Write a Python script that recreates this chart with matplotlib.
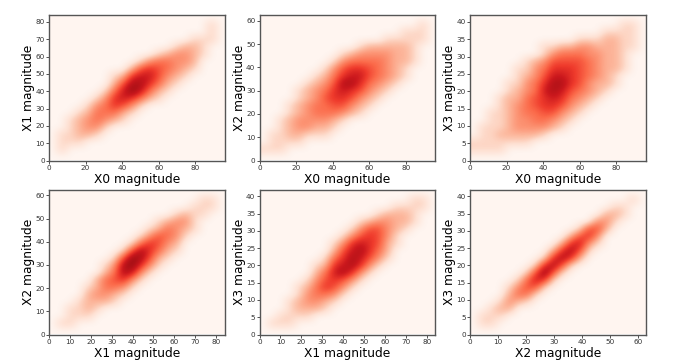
import numpy as np
import matplotlib
matplotlib.use("Agg")
import matplotlib.pyplot as plt
from matplotlib.colors import PowerNorm

# density levels (0 = empty, 9 = darkest), top row = highest y
x0_x1 = [
    [0,0,0,0,0,0,0,0,0,0,0,0,0,0,0,0,0,0,0,0],
    [0,0,0,0,0,0,0,0,0,0,0,0,0,0,0,0,0,0,1,0],
    [0,0,0,0,0,0,0,0,0,0,0,0,0,0,0,0,0,0,1,0],
    [0,0,0,0,0,0,0,0,0,0,0,0,0,0,0,0,1,1,1,0],
    [0,0,0,0,0,0,0,0,0,0,0,0,0,0,1,2,2,1,0,0],
    [0,0,0,0,0,0,0,0,0,0,0,0,1,2,3,3,2,1,0,0],
    [0,0,0,0,0,0,0,0,0,0,1,3,4,4,3,3,2,0,0,0],
    [0,0,0,0,0,0,0,0,0,2,5,6,5,4,3,2,1,0,0,0],
    [0,0,0,0,0,0,0,1,2,6,7,7,5,3,2,1,0,0,0,0],
    [0,0,0,0,0,0,0,2,5,8,8,6,4,2,1,0,0,0,0,0],
    [0,0,0,0,0,0,1,4,7,9,7,4,2,1,0,0,0,0,0,0],
    [0,0,0,0,0,1,3,6,7,6,4,2,1,0,0,0,0,0,0,0],
    [0,0,0,0,1,3,4,6,5,3,1,0,0,0,0,0,0,0,0,0],
    [0,0,0,1,2,4,4,4,2,1,0,0,0,0,0,0,0,0,0,0],
    [0,0,1,2,3,4,3,2,1,0,0,0,0,0,0,0,0,0,0,0],
    [0,0,1,2,3,3,1,0,0,0,0,0,0,0,0,0,0,0,0,0],
    [0,1,1,2,2,1,0,0,0,0,0,0,0,0,0,0,0,0,0,0],
    [0,1,1,1,0,0,0,0,0,0,0,0,0,0,0,0,0,0,0,0],
    [0,1,0,0,0,0,0,0,0,0,0,0,0,0,0,0,0,0,0,0],
    [0,0,0,0,0,0,0,0,0,0,0,0,0,0,0,0,0,0,0,0],
]
x0_x2 = [
    [0,0,0,0,0,0,0,0,0,0,0,0,0,0,0,0,0,0,0,0],
    [0,0,0,0,0,0,0,0,0,0,0,0,0,0,0,0,0,0,1,0],
    [0,0,0,0,0,0,0,0,0,0,0,0,0,0,0,0,1,1,1,0],
    [0,0,0,0,0,0,0,0,0,0,0,0,0,0,1,1,1,1,1,0],
    [0,0,0,0,0,0,0,0,0,0,0,1,2,2,2,2,2,1,0,0],
    [0,0,0,0,0,0,0,0,0,1,2,3,3,3,3,2,2,1,0,0],
    [0,0,0,0,0,0,0,0,1,3,4,4,4,4,3,2,2,1,0,0],
    [0,0,0,0,0,0,0,1,3,5,6,6,5,4,3,2,1,0,0,0],
    [0,0,0,0,0,0,1,2,4,6,7,7,5,4,3,2,1,0,0,0],
    [0,0,0,0,0,1,2,3,5,8,8,6,4,3,2,1,0,0,0,0],
    [0,0,0,0,1,2,3,4,6,7,6,5,3,2,1,0,0,0,0,0],
    [0,0,0,0,1,2,3,5,6,6,5,3,2,1,0,0,0,0,0,0],
    [0,0,0,1,2,3,4,4,5,5,3,2,1,0,0,0,0,0,0,0],
    [0,0,0,1,2,3,4,4,4,3,2,1,0,0,0,0,0,0,0,0],
    [0,0,1,2,3,3,3,3,2,1,0,0,0,0,0,0,0,0,0,0],
    [0,0,1,2,3,3,2,2,1,0,0,0,0,0,0,0,0,0,0,0],
    [0,1,1,2,2,1,1,1,0,0,0,0,0,0,0,0,0,0,0,0],
    [0,1,1,1,1,0,0,0,0,0,0,0,0,0,0,0,0,0,0,0],
    [1,1,1,0,0,0,0,0,0,0,0,0,0,0,0,0,0,0,0,0],
    [0,0,0,0,0,0,0,0,0,0,0,0,0,0,0,0,0,0,0,0],
]
x0_x3 = [
    [0,0,0,0,0,0,0,0,0,0,0,0,0,0,0,0,0,0,0,0],
    [0,0,0,0,0,0,0,0,0,0,0,0,0,0,0,0,0,1,1,0],
    [0,0,0,0,0,0,0,0,0,0,0,0,0,0,0,1,1,1,1,0],
    [0,0,0,0,0,0,0,0,0,0,0,0,1,1,1,2,2,1,1,0],
    [0,0,0,0,0,0,0,0,1,1,2,2,3,3,2,2,2,1,1,0],
    [0,0,0,0,0,0,0,0,1,3,4,4,4,3,3,2,2,1,0,0],
    [0,0,0,0,0,0,1,2,3,5,5,5,5,4,3,2,2,1,0,0],
    [0,0,0,0,0,1,1,3,4,6,6,6,5,4,3,2,2,1,0,0],
    [0,0,0,0,0,1,2,3,5,7,7,6,5,4,3,2,1,0,0,0],
    [0,0,0,0,1,1,3,4,6,8,8,6,5,3,2,2,1,0,0,0],
    [0,0,0,0,1,2,3,4,7,8,7,5,4,3,2,1,0,0,0,0],
    [0,0,0,1,2,2,4,5,6,7,6,4,3,2,1,0,0,0,0,0],
    [0,0,0,1,2,3,4,5,6,6,5,3,2,1,0,0,0,0,0,0],
    [0,0,1,1,2,3,4,4,5,5,3,2,1,0,0,0,0,0,0,0],
    [0,0,1,1,2,3,3,4,4,3,2,1,0,0,0,0,0,0,0,0],
    [0,1,1,1,2,3,3,3,3,2,1,0,0,0,0,0,0,0,0,0],
    [0,1,1,2,2,2,2,2,1,0,0,0,0,0,0,0,0,0,0,0],
    [1,1,1,1,1,1,1,0,0,0,0,0,0,0,0,0,0,0,0,0],
    [1,1,1,1,0,0,0,0,0,0,0,0,0,0,0,0,0,0,0,0],
    [0,0,0,0,0,0,0,0,0,0,0,0,0,0,0,0,0,0,0,0],
]
x1_x2 = [
    [0,0,0,0,0,0,0,0,0,0,0,0,0,0,0,0,0,0,0,0],
    [0,0,0,0,0,0,0,0,0,0,0,0,0,0,0,0,0,1,1,0],
    [0,0,0,0,0,0,0,0,0,0,0,0,0,0,0,0,1,1,1,0],
    [0,0,0,0,0,0,0,0,0,0,0,0,0,0,1,2,1,1,0,0],
    [0,0,0,0,0,0,0,0,0,0,0,0,1,2,3,3,1,0,0,0],
    [0,0,0,0,0,0,0,0,0,0,0,1,2,4,3,2,1,0,0,0],
    [0,0,0,0,0,0,0,0,0,0,1,3,5,4,3,1,0,0,0,0],
    [0,0,0,0,0,0,0,0,0,1,4,6,5,3,2,0,0,0,0,0],
    [0,0,0,0,0,0,0,0,1,5,8,6,4,2,1,0,0,0,0,0],
    [0,0,0,0,0,0,0,1,5,9,8,5,2,1,0,0,0,0,0,0],
    [0,0,0,0,0,0,1,3,8,9,6,3,1,0,0,0,0,0,0,0],
    [0,0,0,0,0,0,2,4,8,7,3,1,0,0,0,0,0,0,0,0],
    [0,0,0,0,0,2,4,5,6,3,1,0,0,0,0,0,0,0,0,0],
    [0,0,0,0,1,2,4,4,3,1,0,0,0,0,0,0,0,0,0,0],
    [0,0,0,0,2,3,3,2,1,0,0,0,0,0,0,0,0,0,0,0],
    [0,0,0,1,2,2,2,1,0,0,0,0,0,0,0,0,0,0,0,0],
    [0,0,1,1,2,1,0,0,0,0,0,0,0,0,0,0,0,0,0,0],
    [0,0,1,1,1,0,0,0,0,0,0,0,0,0,0,0,0,0,0,0],
    [0,1,1,0,0,0,0,0,0,0,0,0,0,0,0,0,0,0,0,0],
    [0,0,0,0,0,0,0,0,0,0,0,0,0,0,0,0,0,0,0,0],
]
x1_x3 = [
    [0,0,0,0,0,0,0,0,0,0,0,0,0,0,0,0,0,0,0,0],
    [0,0,0,0,0,0,0,0,0,0,0,0,0,0,0,0,0,1,1,0],
    [0,0,0,0,0,0,0,0,0,0,0,0,0,0,0,1,1,1,1,0],
    [0,0,0,0,0,0,0,0,0,0,0,0,0,1,2,2,2,1,0,0],
    [0,0,0,0,0,0,0,0,0,0,0,1,2,3,3,2,2,1,0,0],
    [0,0,0,0,0,0,0,0,0,0,1,3,5,5,3,2,1,0,0,0],
    [0,0,0,0,0,0,0,0,0,1,3,5,6,5,3,1,0,0,0,0],
    [0,0,0,0,0,0,0,0,1,3,6,7,6,5,2,1,0,0,0,0],
    [0,0,0,0,0,0,0,0,2,5,7,8,6,4,2,0,0,0,0,0],
    [0,0,0,0,0,0,0,1,4,6,8,7,5,3,1,0,0,0,0,0],
    [0,0,0,0,0,0,1,2,6,7,8,6,3,1,0,0,0,0,0,0],
    [0,0,0,0,0,0,2,4,7,8,6,3,1,0,0,0,0,0,0,0],
    [0,0,0,0,0,1,3,5,6,5,3,1,0,0,0,0,0,0,0,0],
    [0,0,0,0,1,2,4,6,5,3,1,0,0,0,0,0,0,0,0,0],
    [0,0,0,0,1,3,4,4,3,1,0,0,0,0,0,0,0,0,0,0],
    [0,0,0,1,2,3,3,2,1,0,0,0,0,0,0,0,0,0,0,0],
    [0,0,0,1,2,2,2,1,0,0,0,0,0,0,0,0,0,0,0,0],
    [0,0,1,1,1,1,0,0,0,0,0,0,0,0,0,0,0,0,0,0],
    [0,1,1,1,0,0,0,0,0,0,0,0,0,0,0,0,0,0,0,0],
    [0,0,0,0,0,0,0,0,0,0,0,0,0,0,0,0,0,0,0,0],
]
x2_x3 = [
    [0,0,0,0,0,0,0,0,0,0,0,0,0,0,0,0,0,0,0,0],
    [0,0,0,0,0,0,0,0,0,0,0,0,0,0,0,0,0,0,1,0],
    [0,0,0,0,0,0,0,0,0,0,0,0,0,0,0,0,1,1,0,0],
    [0,0,0,0,0,0,0,0,0,0,0,0,0,0,0,2,2,1,0,0],
    [0,0,0,0,0,0,0,0,0,0,0,0,0,0,3,3,1,0,0,0],
    [0,0,0,0,0,0,0,0,0,0,0,0,1,5,5,2,0,0,0,0],
    [0,0,0,0,0,0,0,0,0,0,0,2,5,6,3,0,0,0,0,0],
    [0,0,0,0,0,0,0,0,0,0,2,6,7,3,1,0,0,0,0,0],
    [0,0,0,0,0,0,0,0,0,2,6,8,5,1,0,0,0,0,0,0],
    [0,0,0,0,0,0,0,0,1,6,8,6,2,0,0,0,0,0,0,0],
    [0,0,0,0,0,0,0,1,6,8,5,1,0,0,0,0,0,0,0,0],
    [0,0,0,0,0,0,1,5,9,5,1,0,0,0,0,0,0,0,0,0],
    [0,0,0,0,0,1,4,7,6,1,0,0,0,0,0,0,0,0,0,0],
    [0,0,0,0,1,3,5,5,1,0,0,0,0,0,0,0,0,0,0,0],
    [0,0,0,0,2,4,4,1,0,0,0,0,0,0,0,0,0,0,0,0],
    [0,0,0,1,3,2,1,0,0,0,0,0,0,0,0,0,0,0,0,0],
    [0,0,1,2,2,0,0,0,0,0,0,0,0,0,0,0,0,0,0,0],
    [0,1,1,1,0,0,0,0,0,0,0,0,0,0,0,0,0,0,0,0],
    [0,1,1,0,0,0,0,0,0,0,0,0,0,0,0,0,0,0,0,0],
    [0,0,0,0,0,0,0,0,0,0,0,0,0,0,0,0,0,0,0,0],
]

panels = [x0_x1, x0_x2, x0_x3, x1_x2, x1_x3, x2_x3]
x_labels = ["X0 magnitude", "X0 magnitude", "X0 magnitude", "X1 magnitude", "X1 magnitude", "X2 magnitude"]
y_labels = ["X1 magnitude", "X2 magnitude", "X3 magnitude", "X2 magnitude", "X3 magnitude", "X3 magnitude"]
x_limits = [96, 96, 96, 84, 84, 62.5]
y_limits = [84, 62.5, 42, 62.5, 42, 42]
x_steps = [20, 20, 20, 10, 10, 10]
y_steps = [10, 10, 5, 10, 5, 5]

# axes boxes in pixels of the reference: left, right, top, bottom
W, H = 673, 364
lefts = [49, 259.5, 470]
rights = [224.5, 435, 645.5]
tops = [15, 189.5]
bottoms = [160.5, 334.5]

fig = plt.figure(figsize=(W / 100, H / 100), dpi=100)

for i in range(6):
    row, col = i // 3, i % 3
    box_w = rights[col] - lefts[col]
    box_h = bottoms[row] - tops[row]
    ax = fig.add_axes([lefts[col] / W, 1 - bottoms[row] / H, box_w / W, box_h / H])
    ax.imshow(np.array(panels[i]), cmap="Reds", norm=PowerNorm(0.8, vmin=0, vmax=10),
              aspect="auto", interpolation="bicubic", origin="upper",
              extent=[0, x_limits[i], 0, y_limits[i]])
    ax.set_xticks(np.arange(0, x_limits[i], x_steps[i]))
    ax.set_yticks(np.arange(0, y_limits[i], y_steps[i]))
    ax.tick_params(labelsize=5.2, length=2, width=0.6, pad=1, colors="#333333")
    ax.set_xlabel(x_labels[i], fontsize=8.8, va="center")
    ax.set_ylabel(y_labels[i], fontsize=8.8, va="center")
    # label centres sit a fixed number of pixels off the box
    ax.xaxis.set_label_coords(0.5, -19 / box_h)
    ax.yaxis.set_label_coords(-20.5 / box_w, 0.5)
    for s in ax.spines.values():
        s.set_color("#555555")
        s.set_linewidth(1.0)

plt.savefig("out.png", dpi=100)
